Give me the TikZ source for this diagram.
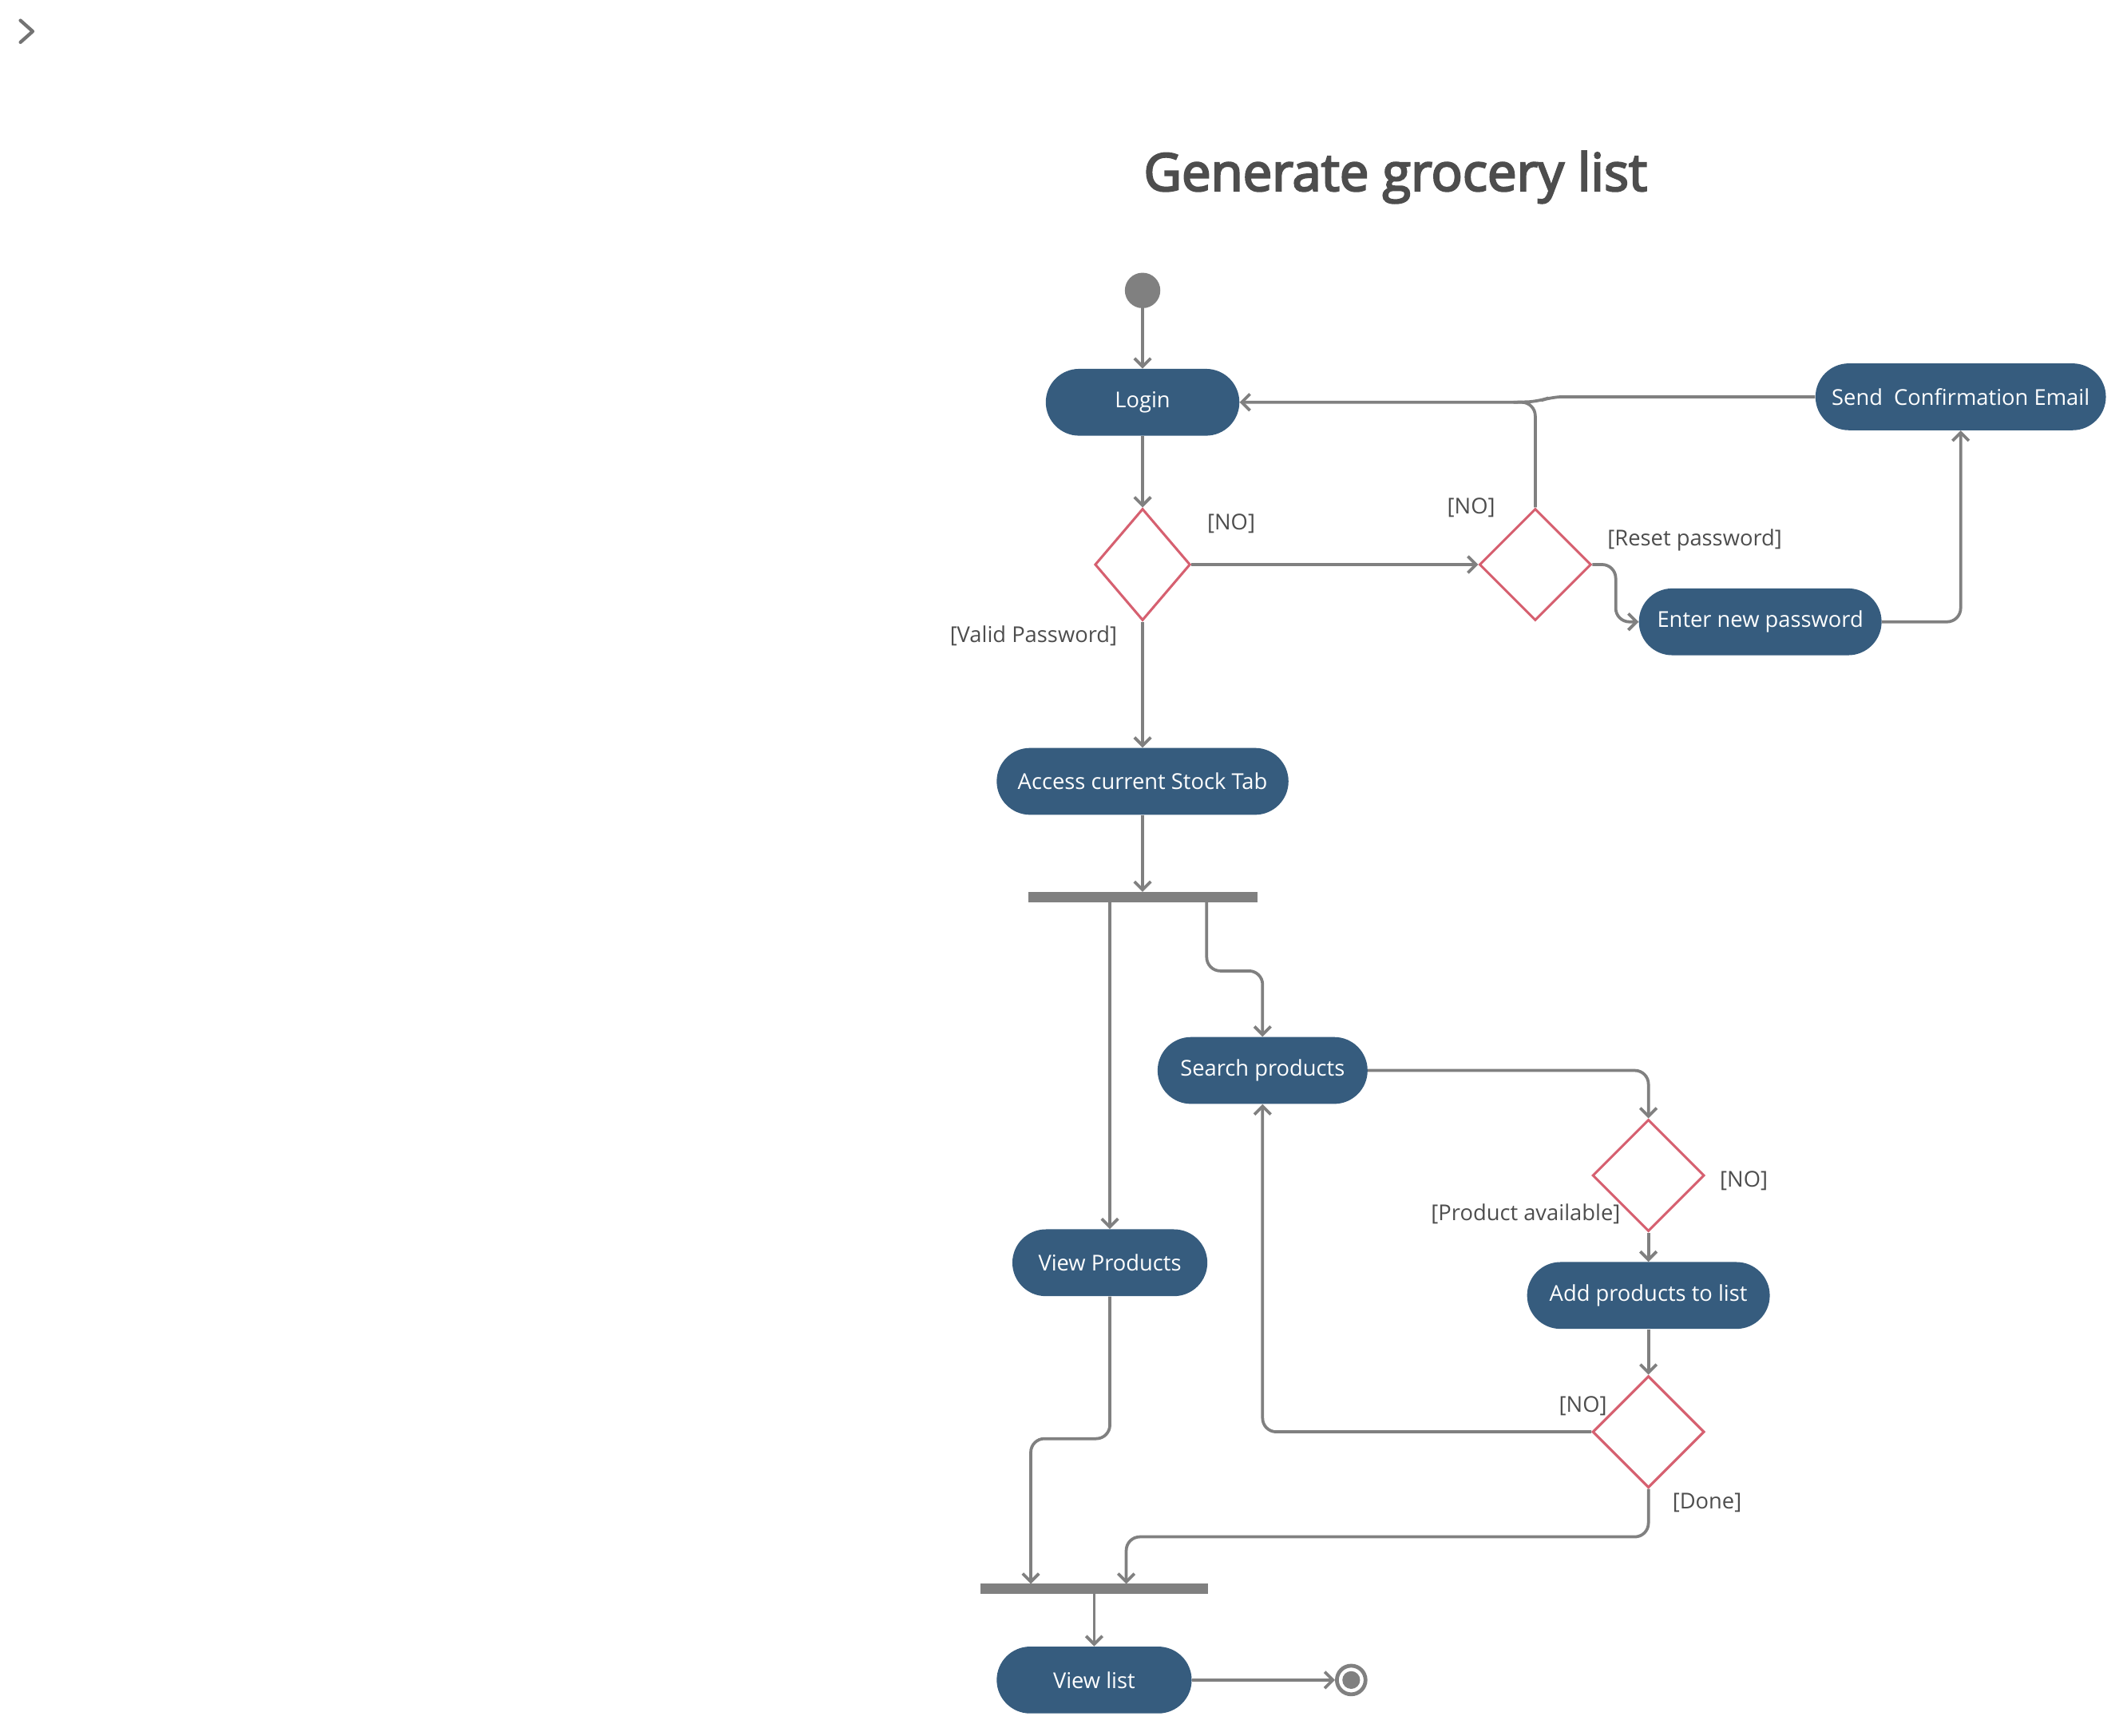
\documentclass[tikz,border=0pt]{standalone}
\usepackage{fontspec}
\setmainfont{Open Sans}
\newfontfamily\titlefont[FakeBold=3.5]{Open Sans}
\usetikzlibrary{arrows.meta,shapes.geometric}
\definecolor{nodeblue}{RGB}{54,92,126}
\definecolor{linegray}{RGB}{128,128,128}
\definecolor{diared}{RGB}{214,96,112}
\definecolor{txtgray}{RGB}{77,77,77}
\tikzset{
  act/.style={draw=none, fill=nodeblue, text=white, rounded corners=24.5pt,
    minimum height=49pt, inner sep=0pt, font=\fontsize{16}{19}\selectfont},
  dec/.style={diamond, draw=diared, line width=1.8pt, inner sep=0pt, fill=white},
  bar/.style={rectangle, fill=linegray, minimum height=7.5pt, inner sep=0pt},
  conn/.style={draw=linegray, line width=2.2pt, rounded corners=10pt,
    -{Straight Barb[length=6pt,width=12pt,line width=2.2pt]}},
  plain/.style={draw=linegray, line width=2.2pt, rounded corners=8pt},
  lbl/.style={text=txtgray, font=\fontsize{16}{19}\selectfont, inner sep=0pt},
}
\begin{document}
\begin{tikzpicture}[x=1pt,y=-1pt]
\useasboundingbox (0,0) rectangle (1560,1273);
% title
\node[text=txtgray, font=\titlefont\fontsize{38.2}{43}\selectfont] (title) at (1023.5,130) {Generate grocery list};
% chevron
\draw[draw=linegray!90!black, line width=2.5pt, line cap=round, line join=round] (15,15) -- (24,23) -- (15,31);
% nodes
\node[circle, fill=linegray, minimum size=26pt, inner sep=0pt] (start) at (838,213) {};
\node[act, minimum width=142pt] (login) at (838,295) {Login};
\node[act, minimum width=213pt] (email) at (1438,291) {Send\ \ Confirmation Email};
\node[dec, minimum width=70pt, minimum height=82pt] (d1) at (838,414) {};
\node[dec, minimum width=82pt, minimum height=82pt] (d2) at (1126,414) {};
\node[act, minimum width=178pt] (enter) at (1291,456) {Enter new password};
\node[act, minimum width=214pt] (access) at (838,573) {Access current Stock Tab};
\node[bar, minimum width=168pt] (bar1) at (838,658) {};
\node[act, minimum width=154pt] (search) at (926,785) {Search products};
\node[act, minimum width=143pt] (viewp) at (814,926) {View Products};
\node[dec, minimum width=82pt, minimum height=82pt] (d3) at (1209,862) {};
\node[act, minimum width=178pt] (add) at (1209,950) {Add products to list};
\node[dec, minimum width=82pt, minimum height=82pt] (d4) at (1209,1050) {};
\node[bar, minimum width=167pt] (bar2) at (802.5,1165) {};
\node[act, minimum width=143pt] (viewl) at (802.5,1232) {View list};
\node[circle, draw=linegray, line width=2.8pt, fill=white, minimum size=21pt, inner sep=0pt] (end) at (991,1232) {};
\node[circle, fill=linegray, minimum size=13pt, inner sep=0pt] (endin) at (end.center) {};
% labels
\node[lbl] (l1) at (903,384) {[NO]};
\node[lbl] (l2) at (1079,372) {[NO]};
\node[lbl] (l3) at (1243,396) {[Reset password]};
\node[lbl] (l4) at (758,466) {[Valid Password]};
\node[lbl] (l5) at (1279,866) {[NO]};
\node[lbl] (l6) at (1119,890) {[Product available]};
\node[lbl] (l7) at (1161,1031) {[NO]};
\node[lbl] (l8) at (1252,1102) {[Done]};
% coordinates
\coordinate (b1r) at (885,661.5);
\coordinate (b2r) at (826,1161.5);
\coordinate (b2l) at (756,1161.5);
% connectors
\draw[conn] (start.south) -- (login.north);
\draw[conn] (login.south) -- (d1.north);
\draw[conn] (d1.east) -- (d2.west);
\draw[conn] (d1.south) -- (access.north);
\draw[conn] (d2.north) -- (1126,295) -- (login.east);
\draw[plain] (email.west) -- (1138,291) -- (1128,294.5) -- (1110,295);
\draw[conn] (d2.east) -- (1185,414) -- (1185,456) -- (enter.west);
\draw[conn] (enter.east) -- (1438,456) -- (email.south);
\draw[conn] (access.south) -- (bar1.north);
\draw[conn] (bar1.south -| viewp.north) -- (viewp.north);
\draw[conn] (b1r) -- (885,712) -- (926,712) -- (search.north);
\draw[conn] (search.east) -- (1209,785) -- (d3.north);
\draw[conn] (d3.south) -- (add.north);
\draw[conn] (add.south) -- (d4.north);
\draw[conn] (d4.west) -- (926,1050) -- (search.south);
\draw[conn] (d4.south) -- (1209,1127) -- (826,1127) -- (b2r);
\draw[conn] (viewp.south) -- (814,1055) -- (756,1055) -- (b2l);
\draw[conn] (bar2.south) -- (viewl.north);
\draw[conn] (viewl.east) -- (end.west);
\end{tikzpicture}
\end{document}
